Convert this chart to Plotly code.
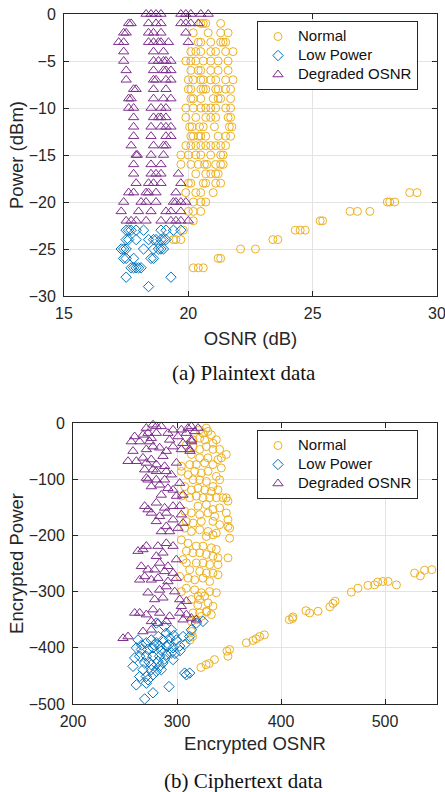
import plotly.graph_objects as go

# ---------------- (a) Plaintext data : power (dBm) -> list of OSNR (dB) ----------------
normal_plain = {
    -1: [20.5, 20.6, 20.7, 21.3],
    -2: [20.2, 20.8, 21.3, 21.6],
    -3: [20.4, 20.5, 20.9, 21.3, 21.4, 21.5],
    -4: [20.1, 20.3, 20.5, 20.9, 21.1, 21.5, 21.8],
    -5: [19.9, 20.1, 20.3, 20.6, 20.9, 21.2, 21.6],
    -6: [20.1, 20.4, 20.5, 20.9, 21.2, 21.6],
    -7: [20.0, 20.2, 20.5, 20.6, 20.9, 21.1, 21.5, 21.8],
    -8: [20.0, 20.1, 20.5, 20.6, 20.7, 21.1, 21.2, 21.5, 21.7],
    -9: [20.1, 20.2, 20.5, 21.0, 21.2, 21.3, 21.7],
    -10: [19.9, 20.2, 20.5, 20.7, 20.9, 21.1, 21.5, 21.7],
    -11: [19.9, 20.3, 20.7, 20.9, 21.1, 21.6, 21.7],
    -12: [20.05, 20.15, 20.45, 20.6, 21.05, 21.65, 21.75],
    -13: [20.1, 20.2, 20.4, 20.5, 20.7, 21.2, 21.5, 21.7],
    -14: [19.9, 20.1, 20.3, 20.5, 20.7, 20.9, 21.1, 21.3, 21.5],
    -15: [19.7, 20.0, 20.3, 20.5, 20.9, 21.3, 21.4],
    -16: [19.7, 20.1, 20.4, 20.65, 20.75, 21.1, 21.3, 21.4],
    -17: [20.3, 20.7, 20.9, 21.1, 21.2],
    -18: [20.0, 20.1, 20.6, 20.7, 21.1, 21.3],
    -19: [19.9, 20.3, 20.5, 21.0, 28.9, 29.2],
    -20: [20.2, 20.5, 20.7, 28.0, 28.1, 28.3],
    -21: [20.0, 20.2, 20.5, 26.5, 26.8, 27.3],
    -22: [20.2, 25.3, 25.4],
    -23: [19.8, 24.3, 24.5, 24.7],
    -24: [19.4, 19.5, 19.7, 23.4, 23.6],
    -25: [22.1, 22.7],
    -26: [21.2, 21.3],
    -27: [20.2, 20.4, 20.6],
}

lowpower_plain = {
    -23: [17.5, 17.6, 17.7, 17.9, 18.2, 18.9, 19.1, 19.4, 19.7],
    -24: [17.5, 17.6, 17.9, 18.4, 18.6, 18.7, 18.9, 19.0, 19.1],
    -25: [17.3, 17.4, 17.5, 18.2, 18.6, 18.8, 18.9, 19.0],
    -26: [17.4, 17.5, 17.8, 18.5, 18.6],
    -27: [17.7, 17.8, 17.9, 18.0, 18.1],
    -28: [17.5, 19.3],
    -29: [18.4],
}

degraded_plain = {
    0: [18.3, 18.5, 18.7, 18.9, 19.7, 19.9, 20.1, 20.5, 20.8],
    -1: [17.6, 17.7, 18.4, 18.7, 18.9, 19.7, 19.9, 20.1, 20.4],
    -2: [17.4, 17.5, 18.4, 18.6, 18.9, 19.9],
    -3: [17.2, 17.4, 18.4, 18.6, 18.8, 18.9, 19.2, 20.0],
    -4: [17.4, 18.6, 19.0],
    -5: [17.4, 18.6, 18.8, 19.0, 19.1, 19.3],
    -6: [17.5, 18.6, 19.0, 19.1, 19.3],
    -7: [17.5, 18.6, 18.7, 19.1, 19.3],
    -8: [17.8, 17.9, 18.6, 19.1],
    -9: [17.6, 17.7, 18.6, 19.0, 19.3],
    -10: [17.6, 17.8, 18.5, 18.9, 19.1],
    -11: [17.8, 18.6, 18.8, 18.9, 19.1],
    -12: [17.8, 18.5, 18.9, 19.1, 19.3],
    -13: [17.8, 18.5, 19.1, 19.3],
    -14: [17.7, 18.6, 19.0, 19.1],
    -15: [17.9, 17.95, 18.5, 19.0],
    -16: [17.8, 18.5, 18.9],
    -17: [17.8, 18.5, 18.7, 18.9, 19.6],
    -18: [17.9, 18.4, 18.6, 18.9, 19.7],
    -19: [17.6, 17.8, 18.3, 18.4, 18.7, 19.5],
    -20: [17.4, 18.1, 18.3, 18.7, 19.4, 19.5, 19.7, 19.9],
    -21: [17.3, 18.0, 18.5, 19.1, 19.3, 19.7],
    -22: [17.5, 17.7, 17.9, 18.3, 18.9, 19.3, 19.5, 19.7, 20.0],
}

# ---------------- (b) Ciphertext data : (encrypted OSNR, encrypted power) ----------------
normal_cipher = [
    (321.8, -12), (328.2, -9), (333.0, -21), (326.6, -30), (321.8, -27), (334.6, -36),
    (325.0, -18), (315.4, -30), (337.8, -30), (329.8, -15), (309.0, -39), (315.4, -42),
    (321.8, -47), (328.2, -42), (334.6, -47), (341.0, -47), (347.4, -56), (313.8, -56),
    (321.8, -62), (329.8, -62), (339.4, -65), (342.6, -62), (318.6, -74), (326.6, -71),
    (334.6, -74), (342.6, -80), (304.2, -77), (312.2, -74), (304.2, -86), (310.6, -92),
    (317.0, -86), (323.4, -89), (329.8, -86), (337.8, -95), (341.0, -101), (315.4, -101),
    (321.8, -101), (328.2, -104), (334.6, -113), (307.4, -113), (313.8, -119), (320.2, -116),
    (326.6, -119), (333.0, -122), (339.4, -119), (312.2, -133), (318.6, -130), (325.0, -133),
    (331.4, -133), (337.8, -133), (344.2, -133), (347.4, -133), (349.0, -139), (304.2, -130),
    (320.2, -148), (328.2, -145), (334.6, -154), (341.0, -151), (307.4, -157), (313.8, -160),
    (321.8, -163), (329.8, -160), (336.2, -166), (347.4, -160), (349.0, -172), (309.0, -175),
    (315.4, -178), (323.4, -175), (334.6, -175), (341.0, -181), (349.0, -184), (307.4, -187),
    (313.8, -193), (321.8, -190), (329.8, -193), (337.8, -196), (350.6, -187), (350.6, -205),
    (328.2, -202), (334.6, -199), (304.2, -208), (310.6, -214), (318.6, -219), (325.0, -219),
    (333.0, -222), (337.8, -225), (309.0, -228), (315.4, -231), (321.8, -231), (328.2, -234),
    (334.6, -237), (339.4, -240), (349.0, -240), (309.0, -249), (318.6, -249), (325.0, -249),
    (331.4, -252), (339.4, -252), (312.2, -261), (321.8, -264), (328.2, -267), (334.6, -267),
    (305.8, -243), (302.6, -273), (310.6, -276), (317.0, -279), (325.0, -276), (331.4, -282),
    (339.4, -270), (309.0, -294), (317.0, -297), (323.4, -302), (331.4, -300), (337.8, -302),
    (304.2, -300), (320.2, -308), (326.6, -308), (313.8, -314), (321.8, -314), (329.8, -320),
    (334.6, -326), (315.4, -338), (321.8, -338), (328.2, -335), (333.0, -341), (318.6, -350),
    (323.4, -344), (313.8, -353), (320.0, -324), (328.6, -336), (314.0, -371), (315.0, -380),
    (312.5, -386),
    (528.5, -267), (534.0, -272), (538.0, -262), (545.0, -261), (511.0, -288), (503.0, -282),
    (498.0, -282), (493.0, -283), (490.0, -288), (483.6, -289), (474.0, -294), (467.6, -301),
    (452.0, -317), (450.0, -321), (447.0, -327), (435.6, -335), (427.6, -338), (424.0, -334),
    (411.5, -345), (408.0, -350), (411.0, -348), (384.0, -377), (379.5, -380), (376.0, -384),
    (373.0, -387), (366.7, -391), (350.6, -403), (349.0, -415), (348.0, -406), (336.0, -421),
    (331.0, -428), (328.0, -430), (323.0, -435),
]

lowpower_cipher = [
    (280.1, -356), (288.1, -362), (294.6, -368), (289.7, -374), (275.3, -386), (270.5, -391),
    (280.1, -391), (286.5, -386), (292.9, -383), (299.4, -386), (305.8, -380), (262.5, -386),
    (260.9, -400), (265.7, -403), (272.1, -403), (276.9, -400), (283.3, -397), (289.7, -397),
    (296.2, -400), (302.6, -397), (307.4, -394), (259.3, -418), (264.1, -415), (270.5, -415),
    (276.9, -415), (283.3, -415), (289.7, -412), (294.6, -409), (268.9, -427), (275.3, -430),
    (281.7, -424), (286.5, -427), (296.2, -421), (267.3, -439), (275.3, -439), (283.3, -433),
    (270.5, -451), (276.9, -448), (264.1, -451), (272.1, -457), (280.1, -442), (260.9, -466),
    (270.5, -463), (292.3, -469), (276.9, -480), (268.9, -491), (313.8, -368), (312.2, -380),
    (318.6, -356), (325.0, -353), (307.4, -445), (309.0, -448), (312.2, -445), (257.7, -433),
    (284.9, -439), (278.0, -395), (285.0, -405), (292.0, -395), (298.0, -410), (273.0, -425),
    (266.0, -395), (282.0, -380), (297.0, -378), (303.0, -405), (288.0, -420),
]

degraded_cipher = [
    (276.9, -3), (270.5, -9), (280.1, -6), (284.9, -6), (259.3, -24), (267.3, -21),
    (272.1, -18), (275.3, -27), (280.1, -18), (256.1, -33), (264.1, -33), (273.7, -33),
    (291.3, -18), (296.2, -12), (304.2, -12), (310.6, -9), (313.8, -6), (320.2, -9),
    (309.0, -18), (317.0, -15), (301.0, -24), (313.8, -30), (292.9, -30), (314.1, -33),
    (312.5, -50), (257.7, -50), (252.9, -68), (260.9, -68), (270.5, -47), (276.9, -42),
    (283.3, -44), (289.7, -50), (267.3, -62), (275.3, -65), (286.5, -59), (296.2, -42),
    (304.2, -47), (312.2, -47), (305.8, -36), (270.5, -71), (280.1, -74), (288.1, -77),
    (299.4, -71), (268.9, -83), (276.9, -83), (272.1, -101), (280.1, -101), (289.7, -86),
    (294.6, -92), (283.3, -110), (291.3, -116), (270.5, -98), (275.3, -113), (284.9, -128),
    (296.2, -119), (302.6, -107), (299.4, -130), (305.8, -128), (280.1, -86), (288.1, -101),
    (268.9, -148), (272.1, -154), (280.1, -142), (288.1, -151), (296.2, -148), (283.3, -166),
    (289.7, -160), (302.6, -148), (280.1, -175), (289.7, -184), (296.2, -172), (301.0, -187),
    (284.9, -193), (292.9, -193), (304.2, -163), (305.8, -178), (275.3, -160), (262.5, -228),
    (267.3, -225), (270.5, -219), (281.7, -219), (289.7, -214), (296.2, -219), (286.5, -231),
    (280.1, -237), (265.7, -255), (272.1, -261), (283.3, -249), (291.3, -255), (299.4, -243),
    (296.2, -267), (288.1, -264), (278.5, -261), (268.9, -273), (275.3, -279), (281.7, -276),
    (291.3, -282), (299.4, -276), (272.1, -302), (283.3, -297), (289.7, -291), (297.8, -300),
    (278.5, -314), (286.5, -311), (302.6, -314), (309.0, -317), (304.2, -326), (264.1, -279),
    (259.3, -338), (264.1, -338), (270.5, -341), (276.9, -332), (283.3, -338), (292.9, -344),
    (275.3, -353), (281.7, -356), (289.7, -353), (302.6, -338), (309.0, -341), (313.8, -347),
    (318.6, -350), (305.8, -350), (248.1, -383), (252.9, -380), (267.3, -371), (275.3, -368),
]

# ---------------- styling ----------------
W, H = 445, 792
ORANGE, BLUE, PURPLE = "#EDB120", "#0072BD", "#7E2F8E"
AX = "#262626"
FONT = "Liberation Sans, Arial, Helvetica, sans-serif"
SERIF = "Liberation Serif, Times New Roman, serif"


def flatten_rows(rows):
    xs, ys = [], []
    for p, vals in rows.items():
        for v in vals:
            xs.append(v)
            ys.append(p)
    return xs, ys


def split_pairs(pairs):
    return [a for a, _ in pairs], [b for _, b in pairs]


def legend_label(text):
    # text drawn at 15px while the legend row height follows the (smaller) base legend font
    return '<span style="font-size:15px">' + text + '</span>'


series = [
    ("Normal", ORANGE, "circle-open", 8, normal_plain, normal_cipher),
    ("Low Power", BLUE, "diamond-open", 8, lowpower_plain, lowpower_cipher),
    ("Degraded OSNR", PURPLE, "triangle-up-open", 9, degraded_plain, degraded_cipher),
]

fig = go.Figure()
for name, col, sym, sz, plain, cipher in series:
    x, y = flatten_rows(plain)
    fig.add_trace(go.Scatter(
        x=x, y=y, mode="markers", name=legend_label(name), cliponaxis=False,
        marker=dict(symbol=sym, size=sz, color=col, line=dict(width=1, color=col)),
        xaxis="x", yaxis="y", legend="legend"))
for name, col, sym, sz, plain, cipher in series:
    x, y = split_pairs(cipher)
    fig.add_trace(go.Scatter(
        x=x, y=y, mode="markers", name=legend_label(name), cliponaxis=False,
        marker=dict(symbol=sym, size=sz, color=col, line=dict(width=1, color=col)),
        xaxis="x2", yaxis="y2", legend="legend2"))


def ax(**kw):
    d = dict(showline=True, linecolor=AX, linewidth=1, mirror="ticks",
             ticks="inside", ticklen=5, tickcolor=AX, showgrid=True,
             gridcolor="#e3e3e3", gridwidth=1, zeroline=False, automargin=False,
             ticklabeloverflow="allow",
             tickfont=dict(family=FONT, size=16, color=AX),
             title_font=dict(family=FONT, size=18.5, color=AX))
    d.update(kw)
    return d


legend_common = dict(bgcolor="white", bordercolor=AX, borderwidth=1,
                     font=dict(family=FONT, size=12, color="#111111"),
                     xanchor="left", yanchor="top", tracegroupgap=0)

fig.update_layout(
    width=W, height=H, margin=dict(l=0, r=0, t=0, b=0),
    paper_bgcolor="white", plot_bgcolor="white",
    xaxis=ax(domain=[64 / W, 437 / W], range=[15, 30], tickvals=[15, 20, 25, 30],
             anchor="y", title=dict(text="OSNR (dB)", standoff=10), ticklabelstandoff=3),
    yaxis=ax(domain=[1 - 296 / H, 1 - 14 / H], range=[-30, 0], tickvals=[0, -5, -10, -15, -20, -25, -30],
             anchor="x", title=dict(text="Power (dBm)", standoff=0), ticklabelstandoff=4),
    xaxis2=ax(domain=[73 / W, 437 / W], range=[200, 550], tickvals=[200, 300, 400, 500],
              anchor="y2", title=dict(text="Encrypted OSNR", standoff=7), ticklabelstandoff=3),
    yaxis2=ax(domain=[1 - 704 / H, 1 - 423 / H], range=[-500, 0],
              tickvals=[0, -100, -200, -300, -400, -500],
              anchor="x2", title=dict(text="Encrypted Power", standoff=0), ticklabelstandoff=4),
    legend=dict(x=257 / W, y=1 - 21 / H, **legend_common),
    legend2=dict(x=257 / W, y=1 - 430 / H, **legend_common),
    annotations=[
        dict(text="(a) Plaintext data", x=243.5 / W, y=1 - 373 / H, xref="paper", yref="paper",
             xanchor="center", yanchor="middle",
             showarrow=False, font=dict(family=SERIF, size=21, color="#111111")),
        dict(text="(b) Ciphertext data", x=243.5 / W, y=1 - 781 / H, xref="paper", yref="paper",
             xanchor="center", yanchor="middle",
             showarrow=False, font=dict(family=SERIF, size=21, color="#111111")),
    ],
)

fig.write_html("out.html")
